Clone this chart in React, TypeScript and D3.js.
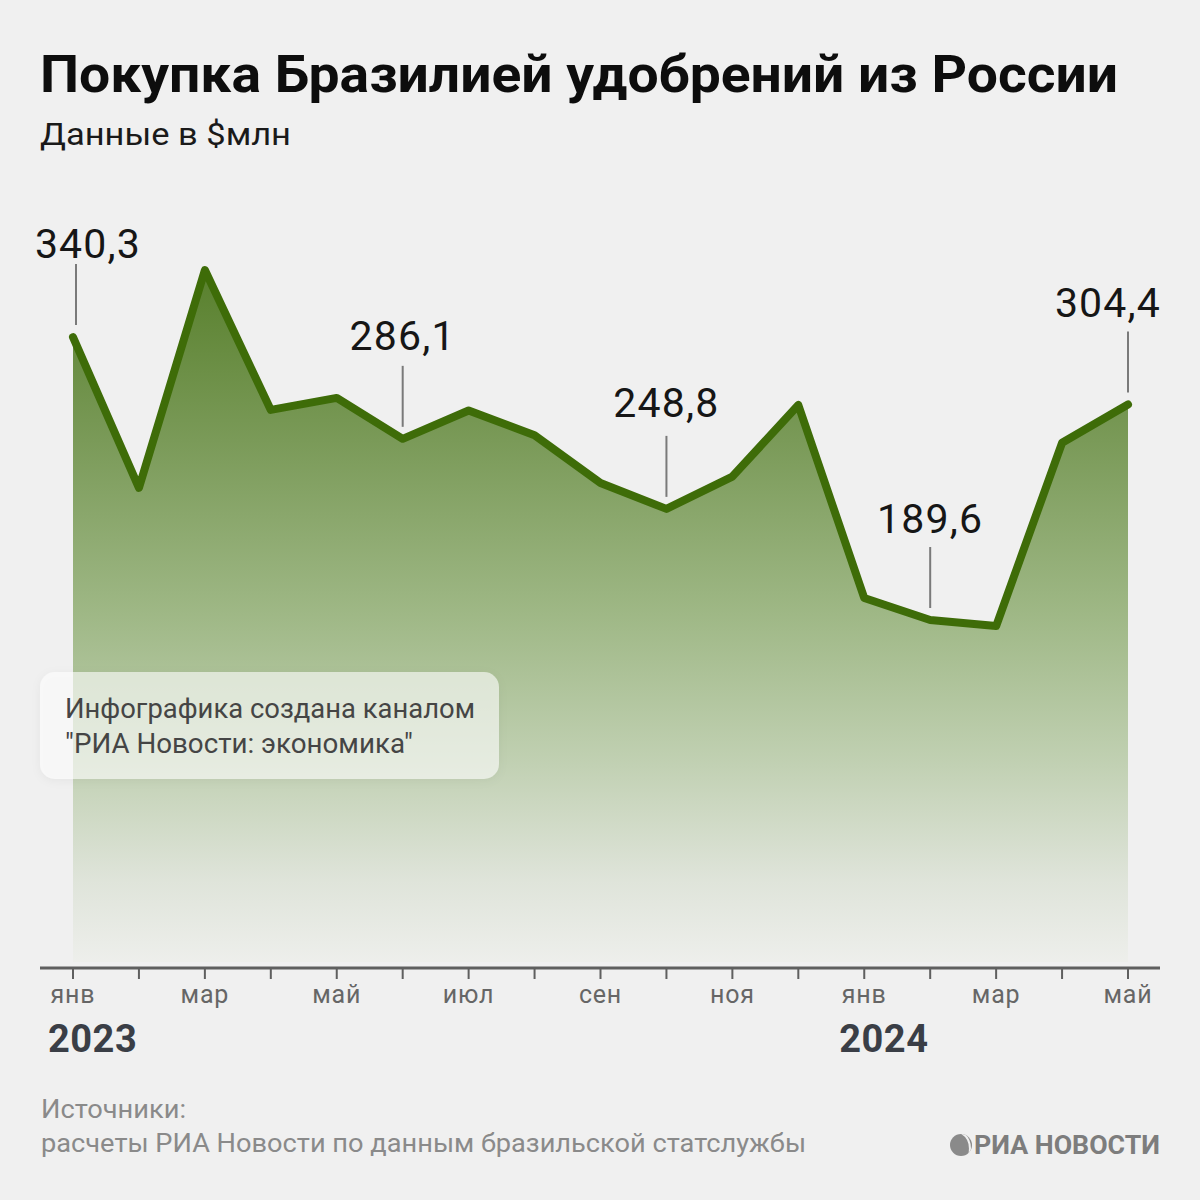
import React from "react";
import * as d3 from "d3";

const months = ["янв","фев","мар","апр","май","июн","июл","авг","сен","окт","ноя","дек","янв","фев","мар","апр","май"];
const values = [340.3, 260, 376, 301.5, 307.9, 286.1, 301.2, 288, 262.6, 248.8, 266, 304.1, 201.3, 189.6, 186.4, 284, 304.4];
const labelled = [0, 5, 9, 13, 16];
const labelTexts = ["340,3", "286,1", "248,8", "189,6", "304,4"];
const labelShift = [15, 0, 0, 0, -20];
const labelRaise = [79, 89, 92, 87, 87];
const shownMonths = [0, 2, 4, 6, 8, 10, 12, 14, 16];
const years = [{ idx: 0, text: "2023" }, { idx: 12, text: "2024" }];

const W = 1200, H = 1200;
const FONT = "Roboto, 'Noto Sans', sans-serif";

export default function App() {
  const x = d3.scaleLinear().domain([0, values.length - 1]).range([73, 1128]);
  const y = d3.scaleLinear().domain([0, 400]).range([976, 225]);
  const axisY = 968;
  const area = d3.area<number>().x((_, i) => x(i)).y0(962).y1((d) => y(d)).curve(d3.curveLinear);
  const line = d3.line<number>().x((_, i) => x(i)).y((d) => y(d)).curve(d3.curveLinear);

  return (
    <svg width={W} height={H} style={{ position: "absolute", left: 0, top: 0, display: "block" }} fontFamily={FONT}>
      <defs>
        <linearGradient id="ag" gradientUnits="userSpaceOnUse" x1="0" x2="0" y1="265" y2="965">
          <stop offset="0" stopColor="#577f2b" />
          <stop offset="0.25" stopColor="#7a9a58" />
          <stop offset="0.5" stopColor="#9fb886" />
          <stop offset="0.7" stopColor="#bfcfb0" />
          <stop offset="0.88" stopColor="#dfe4da" />
          <stop offset="1" stopColor="#eeefec" />
        </linearGradient>
        <filter id="sh" x="-10%" y="-20%" width="120%" height="140%">
          <feDropShadow dx="0" dy="2" stdDeviation="5" floodColor="#000" floodOpacity="0.08" />
        </filter>
        <clipPath id="globe">
          <circle cx={961} cy={1145} r={11} />
        </clipPath>
      </defs>
      <rect width={W} height={H} fill="#f0f0f0" />

      <text x={40} y={92} fontSize={52} fontWeight={700} fill="#0d0d0d" textLength={1078} lengthAdjust="spacingAndGlyphs">Покупка Бразилией удобрений из России</text>
      <text x={40} y={145} fontSize={32} fill="#1a1a1a" textLength={251} lengthAdjust="spacingAndGlyphs">Данные в $млн</text>

      <path d={area(values) || ""} fill="url(#ag)" />
      <path d={line(values) || ""} fill="none" stroke="#3e6c08" strokeWidth={8} strokeLinejoin="round" strokeLinecap="round" />

      {labelled.map((idx, k) => {
        const px = x(idx), py = y(values[idx]);
        const lx = px + (k === 0 ? 3 : 0);
        return (
          <g key={idx}>
            <line x1={lx} x2={lx} y1={py - 73} y2={py - 12} stroke="#7a7a7a" strokeWidth={2} />
            <text x={px + labelShift[k]} y={py - labelRaise[k]} fontSize={41} fill="#161616" textAnchor="middle" letterSpacing={1.2}>{labelTexts[k]}</text>
          </g>
        );
      })}

      <g filter="url(#sh)">
        <rect x={40} y={672} width={459} height={107} rx={15} fill="#ffffff" fillOpacity={0.6} />
      </g>
      <text x={65} y={718} fontSize={27} fill="#454545" textLength={410} lengthAdjust="spacingAndGlyphs">Инфографика создана каналом</text>
      <text x={65} y={753} fontSize={27} fill="#454545" textLength={348} lengthAdjust="spacingAndGlyphs">"РИА Новости: экономика"</text>

      <line x1={40} x2={1160} y1={axisY} y2={axisY} stroke="#5f5f5f" strokeWidth={3} />
      {values.map((_, i) => (
        <line key={i} x1={x(i)} x2={x(i)} y1={axisY} y2={axisY + 11} stroke="#5f5f5f" strokeWidth={2} />
      ))}
      {shownMonths.map((i) => (
        <text key={i} x={x(i)} y={1003} fontSize={25} fill="#666" textAnchor="middle" letterSpacing={0.8}>{months[i]}</text>
      ))}
      {years.map((yr) => (
        <text key={yr.text} x={x(yr.idx) - 25} y={1052} fontSize={38} fontWeight={700} fill="#3a3e46" letterSpacing={0.5}>{yr.text}</text>
      ))}

      <text x={41} y={1118} fontSize={26} fill="#8a8a8a" textLength={145} lengthAdjust="spacingAndGlyphs">Источники:</text>
      <text x={41} y={1152} fontSize={26} fill="#8a8a8a" textLength={765} lengthAdjust="spacingAndGlyphs">расчеты РИА Новости по данным бразильской статслужбы</text>

      <g>
        <circle cx={961} cy={1145} r={11} fill="#8a8a8a" />
        <g clipPath="url(#globe)" stroke="#f0f0f0" strokeWidth={2} fill="none">
          <path d="M 957 1131 Q 975 1137 968 1160" />
          <path d="M 960 1131 Q 980 1138 972 1160" />
          <path d="M 963 1131 Q 985 1139 976 1160" />
        </g>
        <text x={974} y={1154} fontSize={25} fontWeight={700} fill="#7d7d7d" textLength={186} lengthAdjust="spacingAndGlyphs">РИА НОВОСТИ</text>
      </g>
    </svg>
  );
}
